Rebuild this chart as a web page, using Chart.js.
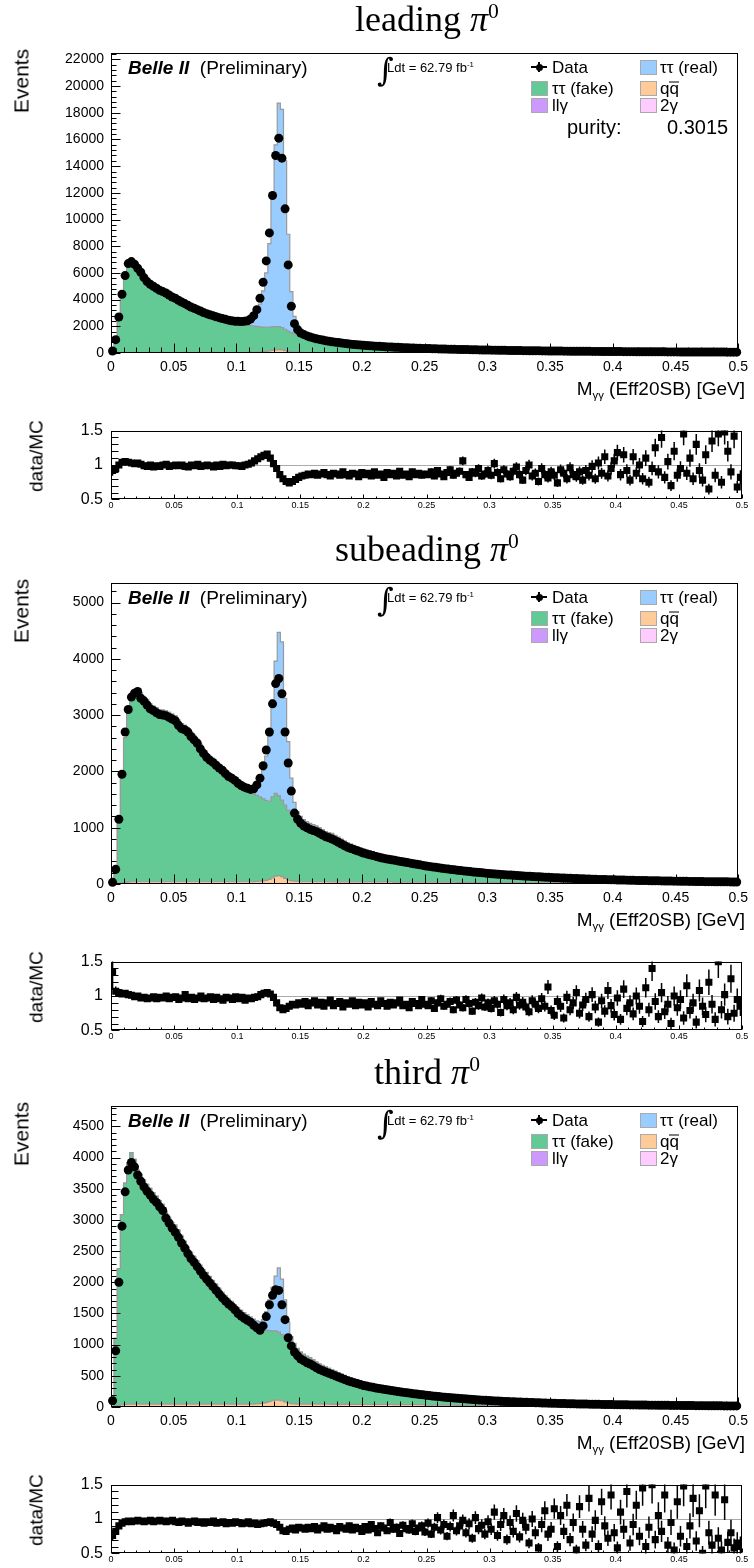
<!DOCTYPE html>
<html lang="en">
<head>
<meta charset="UTF-8">
<title>M_gg (Eff20SB) - leading / subeading / third pi0</title>
<style>
    body { margin: 0; background: #fff; }
    #page { position: relative; width: 754px; height: 1568px; overflow: hidden;
            font-family: "Liberation Sans", Arial, sans-serif; color: #000; }
    #page canvas { position: absolute; }
    .txt { position: absolute; white-space: nowrap; line-height: 1; }
    .txt sub { font-size: 0.6em; vertical-align: -0.35em; }
    .txt sup { font-size: 0.6em; vertical-align: 0.6em; }
    .bar { position: relative; }
    .bar i { position: absolute; left: 0; right: 0; top: 0.2em; border-top: 1.5px solid #000; }
    .box { position: absolute; width: 15px; height: 13px; border: 1px solid #aaa; }
    .mk { position: absolute; background: #000; }
</style>
<script src="https://cdn.jsdelivr.net/npm/chart.js"></script>
</head>
<body>
<div id="page"></div>
<script>
// histogram binning: 200 bins of 2.5 MeV between 0 and 0.5 GeV
var X_MIN = 0, X_MAX = 0.5, N_BINS = 200;
var BIN_W = (X_MAX - X_MIN) / N_BINS;

var COL_FAKE = '#63c995';
var COL_REAL = '#99ccff';
var COL_QQ = '#ffcc99';
var COL_LLG = '#cc99ff';
var COL_2G = '#ffccff';

// ---------- leading pi0 ----------
var lead_data = [
    150, 1000, 2700, 4400, 5800, 6700, 6850, 6650, 6350, 6050,
    5650, 5350, 5150, 5000, 4850, 4700, 4600, 4500, 4350, 4200,
    4100, 3950, 3820, 3700, 3580, 3450, 3350, 3250, 3150, 3030,
    2950, 2870, 2800, 2720, 2650, 2580, 2520, 2460, 2420, 2380,
    2370, 2360, 2370, 2420, 2550, 2800, 3250, 4100, 5300, 6900,
    9000, 11800, 14800, 16100, 14600, 10800, 6600, 3500, 2200, 1750,
    1500, 1380, 1280, 1200, 1130, 1070, 1020, 970, 920, 880,
    840, 810, 780, 750, 720, 690, 665, 640, 620, 600,
    580, 560, 545, 530, 515, 500, 485, 470, 458, 446,
    434, 422, 410, 400, 390, 380, 370, 362, 354, 346,
    338, 330, 322, 315, 308, 301, 294, 288, 282, 276,
    270, 264, 258, 253, 248, 243, 238, 233, 228, 224,
    220, 215, 211, 207, 203, 199, 195, 191, 188, 184,
    181, 177, 174, 171, 168, 165, 162, 159, 156, 153,
    150, 148, 145, 143, 140, 138, 135, 133, 131, 129,
    127, 125, 123, 121, 119, 117, 115, 113, 111, 110,
    108, 106, 104, 103, 101, 100, 98, 97, 95, 94,
    92, 91, 90, 88, 87, 86, 85, 83, 82, 81,
    80, 79, 78, 77, 76, 75, 74, 73, 72, 71,
    70, 69, 68, 67, 66, 66, 65, 64, 63, 62
];
var lead_qq = [
    0, 5, 15, 25, 30, 35, 35, 35, 35, 35,
    35, 35, 35, 35, 35, 35, 35, 35, 35, 35,
    35, 35, 35, 35, 35, 35, 35, 35, 35, 35,
    35, 35, 35, 35, 35, 35, 35, 35, 35, 35,
    35, 35, 35, 35, 40, 45, 50, 60, 80, 110,
    150, 200, 240, 250, 230, 180, 120, 80, 55, 45,
    40, 40, 38, 37, 36, 35, 34, 33, 32, 31,
    30, 30, 30, 30, 30, 30, 30, 30, 30, 30,
    28, 28, 28, 28, 28, 28, 28, 28, 28, 28,
    26, 26, 26, 26, 26, 26, 26, 26, 26, 26,
    25, 25, 25, 25, 25, 25, 25, 25, 25, 25,
    24, 24, 24, 24, 24, 24, 24, 24, 24, 24,
    23, 23, 23, 23, 23, 23, 23, 23, 23, 23,
    22, 22, 22, 22, 22, 22, 22, 22, 22, 22,
    21, 21, 21, 21, 21, 21, 21, 21, 21, 21,
    20, 20, 20, 20, 20, 20, 20, 20, 20, 20,
    19, 19, 19, 19, 19, 19, 19, 19, 19, 19,
    18, 18, 18, 18, 18, 18, 18, 18, 18, 18,
    17, 17, 17, 17, 17, 17, 17, 17, 17, 17,
    16, 16, 16, 16, 16, 16, 16, 16, 16, 16
];
var lead_ttFake = [
    155, 1040, 2660, 4260, 5500, 6380, 6640, 6540, 6230, 5930,
    5570, 5270, 5080, 4920, 4780, 4640, 4520, 4420, 4290, 4140,
    4030, 3890, 3760, 3640, 3520, 3390, 3290, 3190, 3090, 2980,
    2890, 2810, 2740, 2660, 2590, 2520, 2450, 2390, 2330, 2270,
    2220, 2170, 2120, 2070, 2020, 1980, 1940, 1900, 1860, 1820,
    1790, 1760, 1730, 1720, 1680, 1600, 1520, 1450, 1380, 1320,
    1270, 1230, 1190, 1150, 1110, 1070, 1030, 990, 950, 915,
    881, 853, 825, 795, 765, 734, 708, 683, 662, 641,
    622, 600, 583, 567, 551, 535, 517, 501, 487, 475,
    463, 450, 436, 426, 414, 403, 392, 383, 374, 366,
    358, 348, 339, 332, 324, 316, 308, 301, 295, 288,
    282, 275, 269, 263, 257, 251, 246, 240, 234, 229,
    227, 221, 217, 212, 207, 203, 198, 194, 190, 185,
    183, 178, 175, 172, 168, 165, 161, 158, 154, 151,
    149, 147, 144, 141, 138, 136, 132, 130, 128, 125,
    124, 122, 119, 117, 115, 112, 110, 108, 106, 104,
    103, 101, 99, 97, 95, 94, 92, 90, 88, 87,
    87, 86, 84, 82, 81, 80, 79, 76, 75, 74,
    74, 73, 72, 71, 69, 68, 67, 66, 65, 64,
    63, 62, 61, 60, 59, 59, 58, 57, 55, 54
];
var lead_ttReal = [
    0, 0, 0, 0, 0, 0, 0, 0, 0, 0,
    0, 0, 0, 0, 0, 0, 0, 0, 0, 0,
    0, 0, 0, 0, 0, 0, 0, 0, 0, 0,
    20, 25, 30, 35, 45, 55, 65, 80, 95, 110,
    130, 150, 190, 290, 415, 615, 990, 1700, 2710, 4070,
    6260, 9610, 13630, 16750, 16340, 12620, 7260, 3070, 1315, 735,
    455, 316, 243, 192, 153, 125, 108, 92, 75, 65,
    55, 48, 42, 37, 33, 29, 26, 23, 21, 19,
    17, 16, 15, 14, 13, 12, 12, 11, 11, 10,
    10, 9, 9, 8, 8, 8, 7, 7, 7, 6,
    6, 6, 6, 5, 5, 5, 5, 5, 4, 4,
    4, 4, 4, 4, 4, 4, 4, 4, 4, 4,
    3, 3, 3, 3, 3, 3, 3, 3, 3, 3,
    3, 3, 3, 3, 3, 3, 3, 3, 3, 3,
    2, 2, 2, 2, 2, 2, 2, 2, 2, 2,
    2, 2, 2, 2, 2, 2, 2, 2, 2, 2,
    2, 2, 2, 2, 2, 2, 2, 2, 2, 2,
    1, 1, 1, 1, 1, 1, 1, 1, 1, 1,
    1, 1, 1, 1, 1, 1, 1, 1, 1, 1,
    1, 1, 1, 1, 1, 1, 1, 1, 1, 1
];
var lead_ratio = [
    0.92, 0.95, 1.0, 1.04, 1.05, 1.04, 1.03, 1.02, 1.03, 1.01,
    0.99, 0.98, 1.0, 0.97, 0.99, 0.98, 1.0, 1.01, 0.98, 0.99,
    1.0, 0.99, 1.0, 0.98, 0.97, 1.0, 0.99, 1.01, 0.98, 0.99,
    1.0, 0.99, 0.97, 1.0, 0.98, 1.01, 0.99, 1.0, 1.0, 0.99,
    0.99, 0.98, 1.0, 1.01, 1.03, 1.06, 1.09, 1.12, 1.14, 1.16,
    1.1, 1.02, 0.95, 0.86, 0.8, 0.76, 0.74, 0.76, 0.79, 0.82,
    0.84, 0.85, 0.87, 0.86, 0.88, 0.85, 0.87, 0.89, 0.86, 0.84,
    0.88, 0.87, 0.85, 0.9, 0.86, 0.84, 0.88, 0.87, 0.83, 0.89,
    0.86, 0.88, 0.84, 0.9, 0.85, 0.87, 0.82, 0.89, 0.86, 0.88,
    0.84, 0.91, 0.85, 0.87, 0.83, 0.9, 0.86, 0.88, 0.85, 0.87,
    0.86, 0.9, 0.84, 0.92, 0.87, 0.83, 0.89, 0.93, 0.85, 0.88,
    0.91, 1.06, 0.86, 0.82, 0.9, 0.88, 0.95, 0.84, 0.87, 0.92,
    0.85, 1.02, 0.89, 0.8, 0.93, 0.87, 0.83, 0.91, 0.97, 0.86,
    0.78, 0.92, 1.0, 0.84, 0.88, 0.76, 0.95, 0.86, 0.81, 0.9,
    0.85, 0.74, 0.93, 0.88, 0.8, 0.96, 0.86, 0.83, 0.9, 0.78,
    0.92, 0.85, 0.98, 0.8, 1.03, 0.88, 1.12, 0.84, 0.95, 1.06,
    1.18, 0.86, 1.15, 0.92, 0.78, 1.12, 0.88, 1.0, 0.8, 1.1,
    0.75, 0.95, 1.25, 0.9, 1.4, 0.82, 1.05, 0.7, 1.2, 0.85,
    0.95, 1.45, 0.88, 1.1, 0.8, 1.3, 0.92, 0.78, 1.15, 0.65,
    1.35, 0.85, 1.45, 0.75, 1.48, 1.2, 0.9, 1.42, 0.68, 0.82
];

// ---------- subleading pi0 ----------
var sub_data = [
    30, 260, 1150, 1950, 2700, 3100, 3320, 3390, 3420, 3300,
    3250, 3180, 3110, 3080, 3040, 3010, 3000, 2990, 2960, 2930,
    2900, 2820, 2760, 2740, 2700, 2620, 2560, 2500, 2400, 2320,
    2250, 2200, 2160, 2110, 2060, 2020, 1960, 1910, 1880, 1840,
    1790, 1750, 1720, 1700, 1680, 1690, 1760, 1880, 2100, 2380,
    2700, 3200, 3560, 3650, 3380, 2700, 2150, 1650, 1260, 1150,
    1080, 1030, 1000, 970, 950, 930, 900, 870, 840, 820,
    800, 770, 740, 710, 680, 650, 630, 610, 590, 570,
    550, 535, 520, 505, 490, 475, 462, 450, 440, 430,
    420, 410, 400, 390, 380, 370, 360, 350, 340, 330,
    320, 312, 304, 296, 288, 280, 272, 265, 258, 251,
    244, 238, 232, 226, 220, 214, 208, 203, 198, 193,
    188, 183, 178, 174, 170, 166, 162, 158, 154, 150,
    146, 142, 139, 136, 133, 130, 127, 124, 121, 118,
    115, 112, 110, 107, 105, 102, 100, 98, 96, 94,
    92, 90, 88, 86, 84, 82, 80, 78, 77, 75,
    74, 72, 71, 69, 68, 66, 65, 64, 63, 61,
    60, 59, 58, 57, 56, 55, 54, 53, 52, 51,
    50, 49, 48, 47, 46, 46, 45, 44, 43, 42,
    42, 41, 40, 40, 39, 38, 38, 37, 36, 36
];
var sub_qq = [
    0, 5, 15, 25, 30, 35, 40, 40, 40, 40,
    40, 40, 40, 40, 40, 40, 40, 40, 40, 40,
    40, 40, 40, 40, 40, 40, 40, 40, 40, 40,
    40, 40, 40, 40, 40, 40, 40, 40, 40, 40,
    40, 40, 40, 40, 40, 42, 45, 50, 55, 65,
    80, 110, 140, 150, 130, 100, 75, 60, 50, 45,
    40, 40, 40, 40, 40, 40, 40, 40, 40, 40,
    38, 38, 38, 38, 38, 38, 38, 38, 38, 38,
    36, 36, 36, 36, 36, 36, 36, 36, 36, 36,
    34, 34, 34, 34, 34, 34, 34, 34, 34, 34,
    32, 32, 32, 32, 32, 32, 32, 32, 32, 32,
    30, 30, 30, 30, 30, 30, 30, 30, 30, 30,
    28, 28, 28, 28, 28, 28, 28, 28, 28, 28,
    26, 26, 26, 26, 26, 26, 26, 26, 26, 26,
    24, 24, 24, 24, 24, 24, 24, 24, 24, 24,
    22, 22, 22, 22, 22, 22, 22, 22, 22, 22,
    20, 20, 20, 20, 20, 20, 20, 20, 20, 20,
    18, 18, 18, 18, 18, 18, 18, 18, 18, 18,
    16, 16, 16, 16, 16, 16, 16, 16, 16, 16,
    15, 15, 15, 15, 15, 15, 15, 15, 15, 15
];
var sub_ttFake = [
    22, 238, 1080, 1868, 2566, 3004, 3247, 3384, 3380, 3362,
    3290, 3230, 3160, 3120, 3090, 3060, 3050, 3040, 3010, 2980,
    2950, 2870, 2810, 2780, 2740, 2660, 2600, 2530, 2440, 2350,
    2270, 2215, 2170, 2115, 2050, 2000, 1930, 1870, 1830, 1780,
    1720, 1680, 1650, 1620, 1590, 1560, 1530, 1500, 1460, 1420,
    1390, 1440, 1470, 1420, 1360, 1300, 1240, 1190, 1140, 1100,
    1080, 1045, 1025, 1003, 988, 971, 942, 912, 881, 861,
    853, 820, 787, 755, 721, 688, 666, 644, 622, 599,
    580, 563, 546, 529, 513, 496, 481, 468, 456, 445,
    436, 425, 413, 402, 391, 380, 368, 357, 346, 335,
    331, 322, 312, 303, 294, 285, 276, 268, 260, 252,
    246, 239, 233, 226, 219, 212, 205, 200, 194, 188,
    185, 179, 173, 169, 164, 160, 155, 151, 146, 141,
    141, 136, 133, 129, 126, 122, 119, 116, 112, 109,
    110, 106, 104, 100, 98, 95, 92, 90, 88, 85,
    85, 83, 80, 78, 76, 73, 71, 69, 68, 65,
    66, 64, 63, 60, 59, 57, 56, 54, 53, 51,
    52, 51, 49, 48, 47, 46, 45, 44, 42, 41,
    42, 41, 40, 39, 37, 37, 36, 35, 34, 33,
    34, 33, 32, 32, 30, 29, 29, 28, 27, 27
];
var sub_ttReal = [
    0, 0, 0, 0, 0, 0, 0, 0, 0, 0,
    0, 0, 0, 0, 0, 0, 0, 0, 0, 0,
    0, 0, 0, 0, 0, 0, 0, 0, 0, 0,
    10, 15, 20, 25, 30, 40, 50, 60, 70, 80,
    90, 90, 90, 95, 110, 128, 205, 300, 505, 785,
    1150, 1720, 2350, 2900, 2810, 1900, 1215, 630, 260, 135,
    80, 60, 45, 35, 28, 22, 18, 15, 12, 10,
    8, 7, 6, 5, 5, 4, 4, 3, 3, 3,
    2, 2, 2, 2, 2, 2, 2, 2, 2, 2,
    2, 2, 2, 2, 2, 2, 2, 2, 2, 2,
    1, 1, 1, 1, 1, 1, 1, 1, 1, 1,
    1, 1, 1, 1, 1, 1, 1, 1, 1, 1,
    1, 1, 1, 1, 1, 1, 1, 1, 1, 1,
    1, 1, 1, 1, 1, 1, 1, 1, 1, 1,
    0, 0, 0, 0, 0, 0, 0, 0, 0, 0,
    0, 0, 0, 0, 0, 0, 0, 0, 0, 0,
    0, 0, 0, 0, 0, 0, 0, 0, 0, 0,
    0, 0, 0, 0, 0, 0, 0, 0, 0, 0,
    0, 0, 0, 0, 0, 0, 0, 0, 0, 0,
    0, 0, 0, 0, 0, 0, 0, 0, 0, 0
];
var sub_ratio = [
    1.35, 1.07, 1.05, 1.03, 1.04, 1.02, 1.01, 0.99, 1.0, 0.97,
    0.98, 0.96, 0.97, 0.99, 0.96, 0.98, 0.97, 1.0, 0.96, 0.98,
    0.99, 0.95, 0.97, 1.02, 0.96, 0.98, 0.95, 0.97, 1.0, 0.96,
    0.97, 0.99, 0.95, 0.98, 0.96, 0.94, 0.98, 0.97, 0.95, 0.99,
    0.96, 0.98, 0.94, 0.97, 0.96, 0.98, 0.99, 1.02, 1.04, 1.05,
    1.03, 0.98, 0.9, 0.83, 0.8, 0.82, 0.85, 0.88, 0.87, 0.9,
    0.88, 0.92, 0.86, 0.9, 0.93, 0.87, 0.91, 0.85, 0.9, 0.94,
    0.86, 0.89, 0.92, 0.84, 0.9, 0.88, 0.93, 0.86, 0.91, 0.87,
    0.9, 0.84, 0.92, 0.88, 0.86, 0.93, 0.89, 0.85, 0.91, 0.87,
    0.9, 0.94, 0.86, 0.88, 0.83, 0.92, 0.89, 0.86, 0.95, 0.88,
    0.86, 0.93, 0.82, 0.9, 0.96, 0.85, 0.88, 0.92, 0.8, 0.94,
    0.87, 0.83, 0.95, 0.89, 0.78, 0.91, 0.86, 0.97, 0.84, 0.9,
    0.82, 0.93, 0.88, 0.76, 0.95, 0.86, 0.9, 0.8, 0.98, 0.87,
    0.91, 0.84, 0.77, 0.93, 0.88, 0.82, 0.96, 0.85, 1.13, 0.79,
    0.72, 0.92, 0.85, 0.68, 0.98, 0.8, 0.9, 1.05, 0.75, 0.87,
    0.95, 0.7, 1.02, 0.84, 0.62, 0.93, 0.78, 1.08, 0.86, 0.73,
    0.97, 0.66, 1.1, 0.82, 0.9, 0.74, 1.0, 0.85, 0.63, 1.12,
    0.8, 1.4, 0.92, 0.7, 1.05, 0.77, 0.88, 0.6, 1.0, 0.83,
    0.95, 0.68, 1.15, 0.79, 0.9, 0.62, 1.08, 0.85, 0.73, 1.2,
    0.88, 0.66, 1.5, 0.8, 1.02, 0.7, 1.25, 0.75, 0.95, 0.85
];

// ---------- third pi0 ----------
var third_data = [
    100, 900, 2000, 2900, 3450, 3800, 3920, 3850, 3720, 3620,
    3530, 3460, 3400, 3330, 3280, 3210, 3150, 3030, 2950, 2870,
    2800, 2720, 2630, 2550, 2460, 2380, 2320, 2250, 2180, 2110,
    2050, 1990, 1930, 1870, 1810, 1750, 1700, 1650, 1610, 1560,
    1500, 1460, 1420, 1390, 1360, 1310, 1270, 1230, 1300, 1450,
    1640, 1790, 1880, 1870, 1640, 1400, 1110, 980, 880, 820,
    770, 740, 710, 690, 660, 630, 600, 580, 560, 540,
    520, 500, 480, 460, 440, 420, 405, 390, 375, 360,
    345, 335, 325, 315, 305, 295, 287, 279, 271, 263,
    255, 248, 241, 234, 227, 220, 213, 207, 201, 195,
    189, 183, 177, 172, 167, 162, 157, 152, 147, 143,
    139, 135, 131, 127, 123, 119, 116, 113, 110, 107,
    104, 101, 98, 95, 92, 89, 87, 85, 83, 81,
    79, 77, 75, 73, 71, 69, 67, 65, 63, 62,
    61, 59, 58, 56, 55, 54, 52, 51, 50, 49,
    48, 47, 46, 45, 44, 43, 42, 41, 40, 39,
    38, 37, 36, 36, 35, 34, 33, 33, 32, 31,
    31, 30, 30, 29, 28, 28, 27, 27, 26, 26,
    25, 25, 24, 24, 23, 23, 22, 22, 21, 21,
    20, 20, 20, 19, 19, 18, 18, 18, 17, 17
];
var third_qq = [
    0, 10, 25, 35, 40, 45, 45, 45, 45, 45,
    45, 45, 45, 45, 45, 45, 45, 45, 45, 45,
    45, 45, 45, 45, 45, 45, 45, 45, 45, 45,
    45, 45, 45, 45, 45, 45, 45, 45, 45, 45,
    45, 45, 45, 45, 45, 47, 50, 55, 60, 70,
    85, 100, 110, 110, 100, 80, 65, 55, 50, 45,
    45, 45, 45, 45, 45, 45, 45, 45, 45, 45,
    42, 42, 42, 42, 42, 42, 42, 42, 42, 42,
    40, 40, 40, 40, 40, 40, 40, 40, 40, 40,
    38, 38, 38, 38, 38, 38, 38, 38, 38, 38,
    30, 30, 30, 30, 30, 30, 30, 30, 30, 30,
    26, 26, 26, 26, 26, 26, 26, 26, 26, 26,
    22, 22, 22, 22, 22, 22, 22, 22, 22, 22,
    19, 19, 19, 19, 19, 19, 19, 19, 19, 19,
    16, 16, 16, 16, 16, 16, 16, 16, 16, 16,
    14, 14, 14, 14, 14, 14, 14, 14, 14, 14,
    12, 12, 12, 12, 12, 12, 12, 12, 12, 12,
    10, 10, 10, 10, 10, 10, 10, 10, 10, 10,
    9, 9, 9, 9, 9, 9, 9, 9, 9, 9,
    8, 8, 8, 8, 8, 8, 8, 8, 8, 8
];
var third_ttFake = [
    131, 1090, 2195, 3050, 3550, 3875, 4035, 3925, 3755, 3685,
    3595, 3525, 3460, 3390, 3335, 3265, 3205, 3080, 2995, 2915,
    2870, 2790, 2695, 2610, 2515, 2435, 2370, 2300, 2225, 2155,
    2110, 2045, 1975, 1915, 1845, 1780, 1725, 1665, 1620, 1560,
    1500, 1450, 1400, 1350, 1310, 1270, 1240, 1210, 1180, 1160,
    1140, 1120, 1110, 1090, 1060, 1030, 1000, 970, 930, 875,
    825, 793, 761, 740, 708, 674, 641, 619, 596, 574,
    554, 531, 508, 485, 462, 439, 422, 404, 387, 370,
    356, 344, 333, 321, 310, 298, 289, 280, 270, 261,
    254, 246, 238, 230, 222, 214, 206, 199, 192, 185,
    184, 177, 170, 164, 159, 153, 147, 142, 136, 131,
    132, 127, 123, 118, 114, 109, 106, 102, 99, 96,
    96, 93, 89, 86, 83, 79, 77, 75, 72, 70,
    71, 69, 66, 64, 62, 59, 57, 55, 53, 51,
    53, 51, 50, 48, 47, 45, 43, 42, 41, 40,
    41, 39, 38, 37, 36, 35, 34, 33, 31, 30,
    31, 30, 29, 29, 28, 27, 26, 26, 24, 23,
    25, 24, 24, 23, 22, 22, 21, 21, 20, 20,
    19, 19, 18, 18, 17, 17, 16, 16, 15, 15,
    15, 15, 15, 14, 14, 13, 13, 13, 12, 12
];
var third_ttReal = [
    0, 0, 0, 0, 0, 0, 0, 0, 0, 0,
    0, 0, 0, 0, 0, 0, 0, 0, 0, 0,
    0, 0, 0, 0, 0, 0, 0, 0, 0, 0,
    5, 5, 10, 10, 15, 15, 20, 25, 30, 35,
    50, 60, 70, 85, 90, 93, 90, 105, 160, 300,
    495, 700, 880, 1030, 890, 610, 295, 105, 40, 20,
    15, 12, 10, 8, 6, 5, 4, 3, 3, 2,
    2, 2, 2, 2, 2, 2, 2, 2, 2, 2,
    1, 1, 1, 1, 1, 1, 1, 1, 1, 1,
    1, 1, 1, 1, 1, 1, 1, 1, 1, 1,
    1, 1, 1, 1, 1, 1, 1, 1, 1, 1,
    0, 0, 0, 0, 0, 0, 0, 0, 0, 0,
    0, 0, 0, 0, 0, 0, 0, 0, 0, 0,
    0, 0, 0, 0, 0, 0, 0, 0, 0, 0,
    0, 0, 0, 0, 0, 0, 0, 0, 0, 0,
    0, 0, 0, 0, 0, 0, 0, 0, 0, 0,
    0, 0, 0, 0, 0, 0, 0, 0, 0, 0,
    0, 0, 0, 0, 0, 0, 0, 0, 0, 0,
    0, 0, 0, 0, 0, 0, 0, 0, 0, 0,
    0, 0, 0, 0, 0, 0, 0, 0, 0, 0
];
var third_ratio = [
    0.76, 0.82, 0.9, 0.94, 0.96, 0.97, 0.96, 0.97, 0.98, 0.97,
    0.96, 0.97, 0.98, 0.96, 0.97, 0.98, 0.97, 0.96, 0.97, 0.98,
    0.96, 0.95, 0.97, 0.96, 0.94, 0.96, 0.97, 0.95, 0.96, 0.94,
    0.96, 0.95, 0.97, 0.94, 0.95, 0.96, 0.93, 0.95, 0.94, 0.96,
    0.95, 0.93, 0.94, 0.96, 0.93, 0.94, 0.92, 0.93, 0.94, 0.95,
    0.96, 0.94, 0.92, 0.88, 0.83, 0.82, 0.85, 0.87, 0.84, 0.88,
    0.87, 0.85, 0.88, 0.86, 0.89, 0.84, 0.87, 0.9, 0.85, 0.88,
    0.86, 0.83, 0.89, 0.87, 0.85, 0.9, 0.84, 0.88, 0.86, 0.82,
    0.89, 0.84, 0.92, 0.86, 0.8, 0.9, 0.87, 0.83, 0.95, 0.85,
    0.88, 0.79, 0.91, 0.86, 0.84, 0.93, 0.82, 0.87, 0.9, 0.81,
    0.94, 0.78, 0.88, 1.02, 0.84, 0.92, 0.75, 0.89, 1.05, 0.83,
    0.9, 0.98, 0.8, 0.93, 0.72, 1.02, 0.86, 0.91, 0.78, 0.96,
    0.85, 1.1, 0.76, 0.92, 1.05, 0.7, 0.95, 0.82, 1.08, 0.74,
    0.98, 0.88, 0.65, 1.0, 0.8, 0.58, 0.92, 1.12, 0.78, 0.85,
    1.15, 0.6, 1.05, 0.82, 1.2, 0.7, 0.95, 0.55, 1.18, 0.85,
    0.62, 1.3, 0.78, 0.98, 0.6, 1.25, 0.9, 0.72, 1.35, 0.8,
    0.58, 1.1, 0.85, 1.4, 0.65, 0.92, 1.2, 0.75, 1.45, 0.6,
    0.88, 1.5, 0.7, 1.05, 0.82, 1.35, 0.62, 0.95, 0.55, 1.25,
    0.75, 1.48, 0.6, 0.9, 1.3, 0.68, 1.12, 0.5, 1.48, 0.8,
    0.62, 1.35, 0.72, 0.55, 1.28, 0.66, 0.8, 0.58, 0.65, 0.6
];

// frame positions (page pixels) and axis ranges of the three panels
var panels = [
    { title: 'leading', top: 50, bottom: 353, yMax: 22450, yStep: 2000, yMinor: 400,
      data: lead_data, fake: lead_ttFake, real: lead_ttReal, qq: lead_qq, ratio: lead_ratio, purity: '0.3015' },
    { title: 'subeading', top: 580, bottom: 884, yMax: 5340, yStep: 1000, yMinor: 200,
      data: sub_data, fake: sub_ttFake, real: sub_ttReal, qq: sub_qq, ratio: sub_ratio },
    { title: 'third', top: 1103, bottom: 1407, yMax: 4820, yStep: 500, yMinor: 100,
      data: third_data, fake: third_ttFake, real: third_ttReal, qq: third_qq, ratio: third_ratio }
];

Chart.defaults.font.family = '"Liberation Sans", Arial, sans-serif';
Chart.defaults.color = '#000';

function pts(vals) {
    return vals.map(function (v, i) { return { x: X_MIN + (i + 0.5) * BIN_W, y: v }; });
}

function fmt(v) { return String(+(+v).toFixed(3)); }

// ROOT style frame: inward ticks, reference line, error bars
var rootAxes = {
    id: 'rootAxes',
    beforeDatasetsDraw: function (chart, args, o) {
        var ctx = chart.ctx, a = chart.chartArea, xs = chart.scales.x, ys = chart.scales.y;
        ctx.save();
        ctx.beginPath();
        ctx.rect(a.left, a.top, a.right - a.left, a.bottom - a.top);
        ctx.clip();
        if (o.refLine != null) {
            var yy = Math.round(ys.getPixelForValue(o.refLine)) + 0.5;
            ctx.strokeStyle = '#aaa';
            ctx.lineWidth = 1;
            ctx.beginPath();
            ctx.moveTo(a.left, yy);
            ctx.lineTo(a.right, yy);
            ctx.stroke();
        }
        var ds = chart.data.datasets[0];
        if (ds.errors) {
            ctx.strokeStyle = '#000';
            ctx.lineWidth = 1.5;
            ctx.beginPath();
            ds.data.forEach(function (p, i) {
                var e = ds.errors[i];
                var px = xs.getPixelForValue(p.x);
                ctx.moveTo(px, ys.getPixelForValue(p.y - e));
                ctx.lineTo(px, ys.getPixelForValue(p.y + e));
            });
            ctx.stroke();
        }
        ctx.restore();
    },
    afterDraw: function (chart, args, o) {
        var ctx = chart.ctx, a = chart.chartArea, xs = chart.scales.x, ys = chart.scales.y;
        var L = Math.round(a.left) + 0.5, R = Math.round(a.right) - 0.5;
        var T = Math.round(a.top) + 0.5, B = Math.round(a.bottom) - 0.5;
        ctx.save();
        ctx.strokeStyle = '#000';
        ctx.lineWidth = 1;
        ctx.strokeRect(L, T, R - L, B - T);
        ctx.beginPath();
        each(xs.min, xs.max, o.xMinor, o.xMajor, function (v, major) {
            var px = Math.round(xs.getPixelForValue(v)) + 0.5;
            ctx.moveTo(px, B);
            ctx.lineTo(px, B - (major ? o.xLen[0] : o.xLen[1]));
        });
        each(ys.min, ys.max, o.yMinor, o.yMajor, function (v, major) {
            var py = Math.round(ys.getPixelForValue(v)) + 0.5;
            ctx.moveTo(L, py);
            ctx.lineTo(L + (major ? o.yLen[0] : o.yLen[1]), py);
        });
        ctx.stroke();
        ctx.restore();
    }
};
function each(min, max, minor, major, fn) {
    var k0 = Math.ceil(min / minor - 1e-6), k1 = Math.floor(max / minor + 1e-6);
    var n = Math.round(major / minor);
    for (var k = k0; k <= k1; k++) fn(k * minor, k % n === 0);
}
Chart.register(rootAxes);

var page = document.getElementById('page');

function addCanvas(top, h) {
    var c = document.createElement('canvas');
    c.width = 754;
    c.height = h;
    c.style.left = '0px';
    c.style.top = top + 'px';
    page.appendChild(c);
    return c;
}

function txt(html, x, y, size, css) {
    var d = document.createElement('div');
    d.className = 'txt';
    d.innerHTML = html;
    d.style.left = x + 'px';
    d.style.top = y + 'px';
    d.style.fontSize = size + 'px';
    d.style.transform = 'translateY(-50%)';
    if (css) d.style.cssText += css;
    page.appendChild(d);
    return d;
}

function box(x, y, color) {
    var d = document.createElement('div');
    d.className = 'box';
    d.style.left = x + 'px';
    d.style.top = (y - 7) + 'px';
    d.style.background = color;
    page.appendChild(d);
}

function dataMarker(x, y) {
    [[x, y - 0.75, 16, 1.5, 0], [x + 7.25, y - 5, 1.5, 10, 0], [x + 4.5, y - 3.5, 7, 7, 1]].forEach(function (r) {
        var d = document.createElement('div');
        d.className = 'mk';
        d.style.left = r[0] + 'px';
        d.style.top = r[1] + 'px';
        d.style.width = r[2] + 'px';
        d.style.height = r[3] + 'px';
        if (r[4]) d.style.borderRadius = '50%';
        page.appendChild(d);
    });
}

function stackSet(label, vals, color, fill) {
    return {
        label: label, data: pts(vals), stepped: 'middle', fill: fill,
        backgroundColor: color, borderColor: '#999', borderWidth: 1.2,
        pointRadius: 0, order: 1
    };
}

function axisX(size, pad, h) {
    return {
        type: 'linear', min: X_MIN, max: X_MAX,
        grid: { display: false, drawTicks: false }, border: { display: false },
        ticks: { stepSize: 0.05, font: { size: size }, padding: pad, maxRotation: 0, autoSkip: false,
                 callback: fmt },
        afterFit: function (s) { s.height = h; }
    };
}

function axisY(min, max, step, size, pad, extra) {
    var ax = {
        min: min, max: max,
        grid: { display: false, drawTicks: false }, border: { display: false },
        ticks: { font: { size: size }, padding: pad, autoSkip: false, callback: fmt },
        afterBuildTicks: function (s) {
            var t = [];
            each(min, max, step, step, function (v) { t.push({ value: v }); });
            s.ticks = t;
        },
        afterFit: function (s) { s.width = 111; }
    };
    for (var k in extra) ax[k] = extra[k];
    return ax;
}

panels.forEach(function (p) {
    var T = p.top, B = p.bottom;
    var padTop = 12, axisH = 34;

    // main histogram
    var cv = addCanvas(T - padTop, B - T + padTop + axisH);
    new Chart(cv, {
        type: 'line',
        data: {
            datasets: [
                stackSet('qq', p.qq, COL_QQ, 'origin'),
                stackSet('ττ (fake)', p.fake, COL_FAKE, '-1'),
                stackSet('ττ (real)', p.real, COL_REAL, '-1'),
                { label: 'Data', data: pts(p.data), stack: 'data', showLine: false,
                  pointRadius: 4.5, pointBackgroundColor: '#000', pointBorderWidth: 0, order: -1, clip: false }
            ]
        },
        options: {
            responsive: false, animation: false, events: [],
            layout: { padding: { top: padTop, right: 12, left: 0, bottom: 0 } },
            scales: {
                x: axisX(14, 6, axisH),
                y: axisY(0, p.yMax, p.yStep, 14, 7, { stacked: true })
            },
            plugins: {
                legend: { display: false }, tooltip: { enabled: false },
                rootAxes: { xMinor: 0.01, xMajor: 0.05, xLen: [9, 5], yMinor: p.yMinor, yMajor: p.yStep, yLen: [9, 5] }
            }
        }
    });

    // data / MC ratio
    var rTop = B + 70, rH = 81, rPad = 10, rAxis = 13;
    var rc = addCanvas(rTop - rPad, rH + rPad + rAxis);
    new Chart(rc, {
        type: 'line',
        data: {
            datasets: [{
                label: 'data/MC', data: pts(p.ratio), showLine: false,
                errors: p.ratio.map(function (r, i) { return r / Math.sqrt(p.data[i]); }),
                pointStyle: 'rect', pointRadius: 5, pointBackgroundColor: '#000', pointBorderWidth: 0
            }]
        },
        options: {
            responsive: false, animation: false, events: [],
            layout: { padding: { top: rPad, right: 12, left: 0, bottom: 0 } },
            scales: {
                x: axisX(9, 1, rAxis),
                y: axisY(0.5, 1.5, 0.5, 16, 8, {})
            },
            plugins: {
                legend: { display: false }, tooltip: { enabled: false },
                rootAxes: { xMinor: 0.01, xMajor: 0.05, xLen: [4, 2], yMinor: 0.1, yMajor: 0.5, yLen: [8, 7], refLine: 1 }
            }
        }
    });

    // texts
    txt(p.title + ' <i>π</i><sup>0</sup>', 177, T - 31, 36,
        'font-family:"Liberation Serif",serif;width:500px;text-align:center;');
    txt('Events', 21, T + 31, 21, 'transform:translate(-50%,-50%) rotate(-90deg);');
    txt('M<sub>γγ</sub> (Eff20SB) [GeV]', 0, B + 37, 19, 'left:auto;right:9px;');
    txt('data/MC', 36, rTop + 33, 19, 'transform:translate(-50%,-50%) rotate(-90deg);');

    txt('<b><i>Belle II</i></b>&nbsp; (Preliminary)', 128, T + 17, 19);
    txt('∫', 377, T + 20, 32, 'font-family:"DejaVu Serif",serif;');
    txt('Ldt = 62.79 fb<sup>-1</sup>', 387, T + 17, 13);

    dataMarker(531, T + 17);
    txt('Data', 552, T + 17, 17);
    box(531, T + 38, COL_FAKE);
    txt('ττ (fake)', 552, T + 38, 17);
    box(531, T + 55, COL_LLG);
    txt('llγ', 552, T + 55, 17);
    box(640, T + 17, COL_REAL);
    txt('ττ (real)', 660, T + 17, 17);
    box(640, T + 38, COL_QQ);
    txt('q<span class="bar">q<i></i></span>', 660, T + 38, 17);
    box(640, T + 55, COL_2G);
    txt('2γ', 660, T + 55, 17);

    if (p.purity) {
        txt('purity:', 567, T + 77, 20);
        txt(p.purity, 667, T + 77, 20);
    }
});
</script>
</body>
</html>
